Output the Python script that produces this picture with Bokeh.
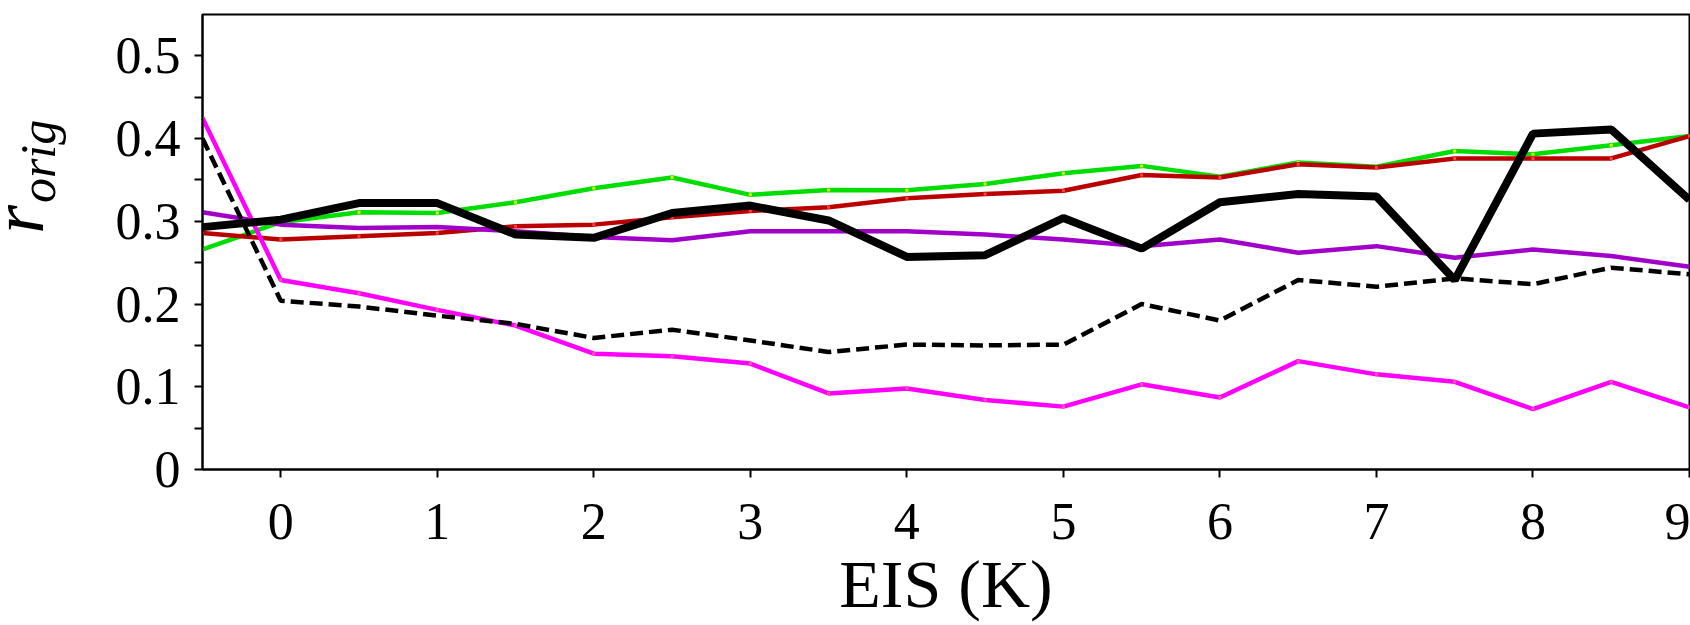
from bokeh.plotting import figure
from bokeh.models import FixedTicker, Range1d, Label
from bokeh.layouts import row
from bokeh.embed import file_html
from bokeh.resources import INLINE
import math

# Data
eis = [-0.5, 0.0, 0.5, 1.0, 1.5, 2.0, 2.5, 3.0, 3.5, 4.0, 4.5, 5.0, 5.5, 6.0, 6.5, 7.0, 7.5, 8.0, 8.5, 9.0]
green = [0.266, 0.299, 0.311, 0.310, 0.323, 0.340, 0.353, 0.332, 0.338, 0.3375, 0.345, 0.358, 0.367, 0.354, 0.371, 0.366, 0.385, 0.381, 0.392, 0.403]
red = [0.286, 0.278, 0.282, 0.286, 0.294, 0.296, 0.305, 0.3125, 0.317, 0.328, 0.333, 0.337, 0.356, 0.353, 0.369, 0.365, 0.376, 0.376, 0.376, 0.403]
purple = [0.311, 0.296, 0.292, 0.293, 0.288, 0.281, 0.277, 0.288, 0.288, 0.288, 0.284, 0.278, 0.270, 0.278, 0.262, 0.270, 0.256, 0.266, 0.258, 0.245]
magenta = [0.425, 0.229, 0.213, 0.193, 0.174, 0.140, 0.137, 0.128, 0.092, 0.098, 0.084, 0.076, 0.103, 0.087, 0.131, 0.115, 0.106, 0.073, 0.106, 0.075]
dashed = [0.400, 0.204, 0.197, 0.186, 0.176, 0.159, 0.169, 0.156, 0.142, 0.151, 0.150, 0.151, 0.200, 0.180, 0.229, 0.221, 0.231, 0.224, 0.244, 0.236]
black = [0.293, 0.302, 0.322, 0.322, 0.284, 0.280, 0.310, 0.319, 0.301, 0.257, 0.259, 0.304, 0.267, 0.323, 0.333, 0.330, 0.229, 0.406, 0.411, 0.326]

x_ticks = [0, 1, 2, 3, 4, 5, 6, 7, 8, 9]
y_ticks = [0, 0.1, 0.2, 0.3, 0.4, 0.5]
y_minor = [0.05, 0.15, 0.25, 0.35, 0.45]
x_title = "EIS (K)"
y_title_main = "r"
y_title_sub = "orig"

FONT = "Liberation Serif"
LEFT_W = 112
H = 625
TOP = 14
BOTTOM = 156

p = figure(width=1690 - LEFT_W, height=H, output_backend="svg", toolbar_location=None,
           x_range=Range1d(-0.5, 9), y_range=Range1d(0, 0.55),
           min_border_left=87, min_border_right=1, min_border_top=TOP, min_border_bottom=BOTTOM)
p.grid.visible = False
p.outline_line_color = "black"
p.outline_line_width = 2

# Narrow figure that only holds the rotated y-axis title (shares the y range)
lab = figure(width=LEFT_W, height=H, output_backend="svg", toolbar_location=None,
             x_range=Range1d(0, LEFT_W), y_range=p.y_range,
             x_axis_type=None, y_axis_type=None,
             min_border_left=0, min_border_right=0,
             min_border_top=TOP, min_border_bottom=BOTTOM)
lab.grid.visible = False
lab.outline_line_color = None
lab.add_layout(Label(x=17, y=0.285, text=y_title_main, text_font=FONT, text_font_style="italic",
                     text_font_size="74px", angle=math.pi / 2, text_align="left",
                     text_baseline="alphabetic", text_color="black"))
lab.add_layout(Label(x=37, y=0.322, text=y_title_sub, text_font=FONT, text_font_style="italic",
                     text_font_size="50px", angle=math.pi / 2, text_align="left",
                     text_baseline="alphabetic", text_color="black"))

for ax in (p.xaxis[0], p.yaxis[0]):
    ax.axis_line_width = 2
    ax.major_tick_line_width = 2
    ax.minor_tick_line_width = 2
    ax.major_tick_in = 0
    ax.major_tick_out = 8
    ax.minor_tick_in = 0
    ax.minor_tick_out = 8
    ax.major_label_text_font = FONT
    ax.major_label_text_font_size = "52px"
    ax.major_label_text_color = "black"

p.xaxis.ticker = FixedTicker(ticks=x_ticks, minor_ticks=[])
p.yaxis.ticker = FixedTicker(ticks=y_ticks, minor_ticks=y_minor)
p.yaxis.major_label_overrides = {0: "0"}
p.xaxis.major_label_standoff = 26
p.yaxis.major_label_standoff = 14

p.xaxis.axis_label = x_title
p.xaxis.axis_label_text_font = FONT
p.xaxis.axis_label_text_font_size = "68px"
p.xaxis.axis_label_text_font_style = "normal"
p.xaxis.axis_label_text_color = "black"
p.xaxis.axis_label_standoff = 4

# Lines
p.line(eis, green, line_color="#00dd00", line_width=4.5)
p.scatter(eis, green, marker="square", size=3, fill_color="#e8e800", line_color=None)
p.line(eis, red, line_color="#bb0000", line_width=4.5)
p.scatter(eis, red, marker="square", size=3, fill_color="#ff4040", line_color=None)
p.line(eis, purple, line_color="#a000c8", line_width=4.5)
p.line(eis, magenta, line_color="#ff00ff", line_width=4.5)
p.scatter(eis, magenta, marker="square", size=3, fill_color="#ff5aa0", line_color=None)
p.line(eis, dashed, line_color="black", line_width=4.5, line_dash="13 6")
p.line(eis, black, line_color="black", line_width=8)

layout = row(lab, p, spacing=0)
open("out.html", "w").write(file_html(layout, INLINE))
